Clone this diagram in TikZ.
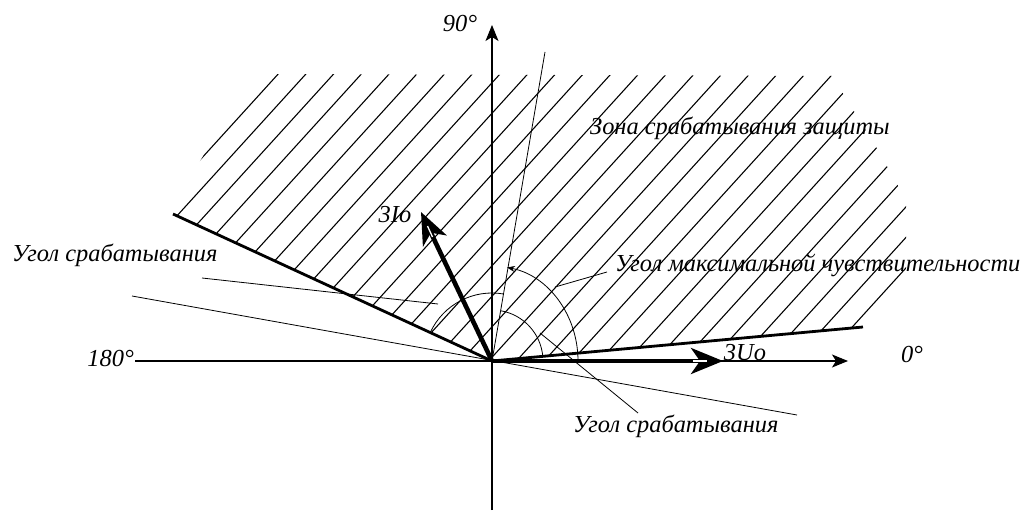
\documentclass[tikz,border=0pt]{standalone}
\usepackage{fontspec}
\setmainfont{Liberation Serif}
\usetikzlibrary{arrows.meta}
\begin{document}
\begin{tikzpicture}[x=1bp,y=-1bp,
  lbl/.style={font=\fontsize{24.5}{29}\selectfont\itshape, inner sep=0pt},
  hairline/.style={line width=0.8bp},
  hatchline/.style={line width=1.1bp},
  axisline/.style={line width=1.1bp, -{Stealth[length=16bp,width=13bp,inset=4bp]}},
  boundline/.style={line width=2.8bp},
  vecline/.style={line width=4.6bp, -{Stealth[length=32bp,width=26bp,inset=9bp]}},
  sliver/.style={white, line width=1.3bp}
]
\useasboundingbox (0,0) rectangle (1024,511);
\coordinate (O) at (492,361);

% hatching of the operating zone
\begin{scope}
\clip (O) -- (173,214) -- (178,197) -- (213,140) -- (276,74) -- (832,76) -- (875,145) -- (906,200) -- (906,290) -- (863,327) -- cycle;
\foreach \c in {380,410.5,...,1300}
  \draw[hatchline] ({(\c-520)/1.1},520) -- ({(\c-60)/1.1},60);
\end{scope}

% axes
\coordinate (xs) at (135,361);
\coordinate (xe) at (848,361);
\coordinate (ys) at (492,510);
\coordinate (ye) at (492,25);
\draw[axisline] (xs) -- (xe);
\draw[axisline] (ys) -- (ye);

% max sensitivity line (80 deg) and its perpendicular
\coordinate (m80) at (545,52);
\coordinate (p170) at (132,296);
\coordinate (pm10) at (797,415);
\draw[hairline] (O) -- (m80);
\draw[hairline] (p170) -- (pm10);

% zone boundaries
\coordinate (b155) at (173,214);
\coordinate (b5) at (863,327);
\draw[boundline] (O) -- (b155);
\draw[boundline] (O) -- (b5);

% arcs
\draw[hairline] (O) ++(-80:68) arc[start angle=-80, end angle=-155, radius=68];
\draw[hairline] (O) ++(-5:51) arc[start angle=-5, end angle=-80, radius=51];
\draw[hairline, -{Stealth[length=8bp,width=6bp]}] (O) ++(0:86) arc[start angle=0, end angle=-80, x radius=86, y radius=95];

% vectors
\coordinate (Io) at (421,212);
\coordinate (Uo) at (723,361);
\draw[vecline] (O) -- (Io);
\draw[vecline] (O) -- (Uo);
\draw[sliver] (693,361) -- (707,361);
\draw[sliver] (427.5,226) -- (432.5,237);

% leaders
\coordinate (l1a) at (202,278);
\coordinate (l1b) at (438,304);
\coordinate (l2a) at (607,272);
\coordinate (l2b) at (555,287);
\coordinate (l3a) at (638,413);
\coordinate (l3b) at (540,333);
\draw[hairline] (l1a) -- (l1b);
\draw[hairline] (l2a) -- (l2b);
\draw[hairline] (l3a) -- (l3b);

% labels
\node[lbl] (t90) at (460,24) {90°};
\node[lbl, anchor=east] (t180) at (134,359) {180°};
\node[lbl] (t0) at (912,355) {0°};
\node[lbl] (tI) at (395,215) {3Io};
\node[lbl] (tU) at (745,353) {3Uo};
\node[lbl, anchor=west] (tzone) at (590,128) {Зона срабатывания защиты};
\node[lbl, anchor=west] (tmax) at (615,265) {Угол максимальной чувствительности};
\node[lbl, anchor=west] (tleft) at (12,255) {Угол срабатывания};
\node[lbl, anchor=west] (tbot) at (573,426) {Угол срабатывания};
\end{tikzpicture}
\end{document}
